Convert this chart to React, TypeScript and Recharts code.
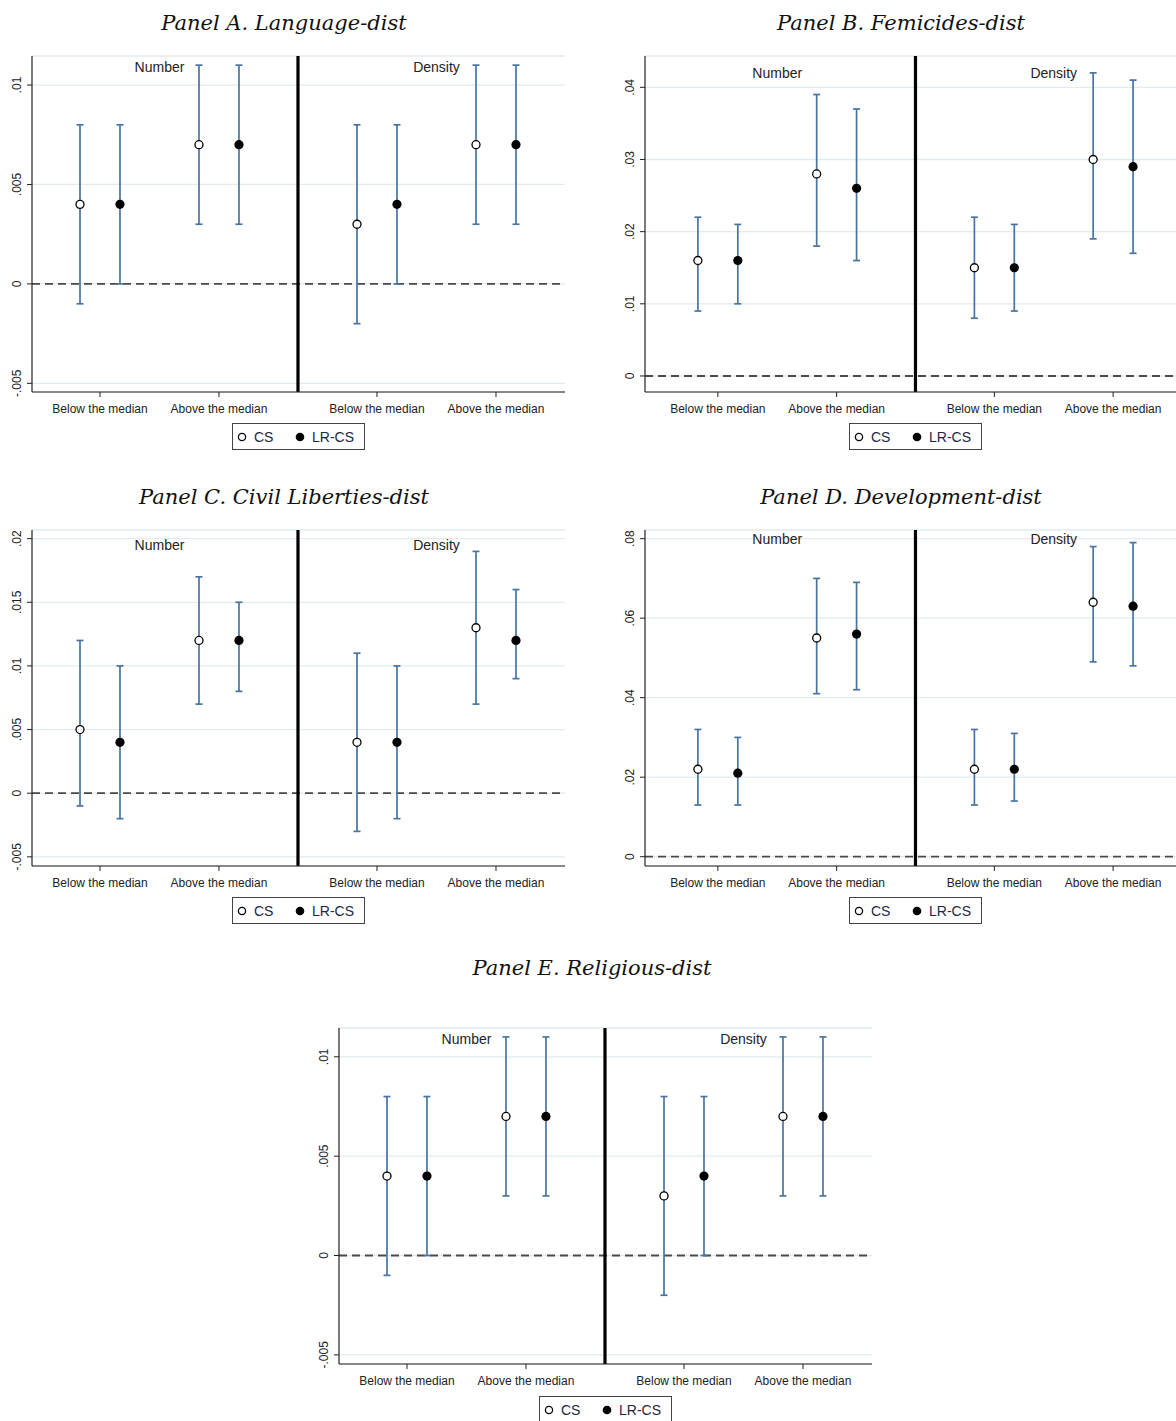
import React from 'react';
import {
  CartesianGrid,
  ErrorBar,
  ReferenceDot,
  ReferenceLine,
  Scatter,
  ScatterChart,
  XAxis,
  YAxis,
} from 'recharts';

const CATEGORIES = ['Below the median', 'Above the median', 'Below the median', 'Above the median'];
const CATEGORY_X = [1, 2, 3.328, 4.328];
const GROUPS = ['Number', 'Density'];
const GROUP_X = [1.5, 3.828];
const DIVIDER_X = 2.664;

// [estimate, lower CI, upper CI] per category
const languageCS = [[0.004, -0.001, 0.008], [0.007, 0.003, 0.011], [0.003, -0.002, 0.008], [0.007, 0.003, 0.011]];
const languageLR = [[0.004, 0, 0.008], [0.007, 0.003, 0.011], [0.004, 0, 0.008], [0.007, 0.003, 0.011]];
const femicidesCS = [[0.016, 0.009, 0.022], [0.028, 0.018, 0.039], [0.015, 0.008, 0.022], [0.03, 0.019, 0.042]];
const femicidesLR = [[0.016, 0.01, 0.021], [0.026, 0.016, 0.037], [0.015, 0.009, 0.021], [0.029, 0.017, 0.041]];
const civilCS = [[0.005, -0.001, 0.012], [0.012, 0.007, 0.017], [0.004, -0.003, 0.011], [0.013, 0.007, 0.019]];
const civilLR = [[0.004, -0.002, 0.01], [0.012, 0.008, 0.015], [0.004, -0.002, 0.01], [0.012, 0.009, 0.016]];
const developmentCS = [[0.022, 0.013, 0.032], [0.055, 0.041, 0.07], [0.022, 0.013, 0.032], [0.064, 0.049, 0.078]];
const developmentLR = [[0.021, 0.013, 0.03], [0.056, 0.042, 0.069], [0.022, 0.014, 0.031], [0.063, 0.048, 0.079]];
const religiousCS = [[0.004, -0.001, 0.008], [0.007, 0.003, 0.011], [0.003, -0.002, 0.008], [0.007, 0.003, 0.011]];
const religiousLR = [[0.004, 0, 0.008], [0.007, 0.003, 0.011], [0.004, 0, 0.008], [0.007, 0.003, 0.011]];

const languageTicks = [-0.005, 0, 0.005, 0.01];
const femicidesTicks = [0, 0.01, 0.02, 0.03, 0.04];
const civilTicks = [-0.005, 0, 0.005, 0.01, 0.015, 0.02];
const developmentTicks = [0, 0.02, 0.04, 0.06, 0.08];
const religiousTicks = [-0.005, 0, 0.005, 0.01];

const BAR_COLOR = '#4874a3';
const TEXT = '#222';
const PLOT_H = 336;

const stataFmt = (v: number) => String(+v.toFixed(4)).replace(/^(-?)0\./, '$1.');

const toPoints = (rows: number[][], side: number) =>
  rows.map(([est, lo, hi], i) => ({ x: CATEGORY_X[i] + side * 0.168, y: est, err: [est - lo, hi - est] }));

const YTick = (props: any) => {
  const { x, y, payload } = props;
  return (
    <text x={x} y={y} transform={`rotate(-90 ${x} ${y})`} textAnchor="middle" fontSize={12} fill={TEXT}>
      {stataFmt(payload.value)}
    </text>
  );
};

const hollow = (p: any) => <circle cx={p.cx} cy={p.cy} r={4} fill="#fff" stroke="#000" strokeWidth={1.3} />;
const solid = (p: any) => <circle cx={p.cx} cy={p.cy} r={4.6} fill="#000" />;

type PanelProps = {
  cs: number[][];
  lr: number[][];
  ticks: number[];
  domain: [number, number];
  labelY: number;
  left: number;
  top: number;
  width: number;
  xMin: number;
};

function Panel({ cs, lr, ticks, domain, labelY, left, top, width, xMin }: PanelProps) {
  return (
    <div style={{ position: 'absolute', left: left - 32, top: top - 10 }}>
      <ScatterChart width={32 + width} height={10 + PLOT_H + 30} margin={{ top: 10, right: 0, bottom: 0, left: 0 }}>
        <CartesianGrid vertical={false} stroke="#e2ebf0" strokeWidth={1.3} />
        <XAxis
          type="number"
          dataKey="x"
          domain={[xMin, 4.908]}
          ticks={CATEGORY_X}
          interval={0}
          allowDataOverflow
          height={30}
          tickSize={5}
          tickMargin={7}
          tickFormatter={(v: number) => CATEGORIES[CATEGORY_X.indexOf(v)]}
          tick={{ fontSize: 12, fill: TEXT }}
          axisLine={{ stroke: '#222', strokeWidth: 1.2 }}
          tickLine={{ stroke: '#222' }}
        />
        <YAxis
          type="number"
          dataKey="y"
          domain={domain}
          ticks={ticks}
          interval={0}
          allowDataOverflow
          width={32}
          tickSize={5}
          tickMargin={6}
          tick={<YTick />}
          axisLine={{ stroke: '#222', strokeWidth: 1.2 }}
          tickLine={{ stroke: '#222' }}
        />
        <ReferenceLine y={0} stroke="#4a4a4a" strokeDasharray="8 5" strokeWidth={1.8} />
        <ReferenceLine x={DIVIDER_X} stroke="#000" strokeWidth={3.2} />
        {GROUPS.map((g, i) => (
          <ReferenceDot
            key={g}
            x={GROUP_X[i]}
            y={labelY}
            r={0}
            fill="none"
            stroke="none"
            label={{ value: g, position: 'center', fontSize: 14, fill: TEXT }}
          />
        ))}
        <Scatter data={toPoints(cs, -1)} dataKey="y" shape={hollow} isAnimationActive={false}>
          <ErrorBar dataKey="err" direction="y" width={3.5} stroke={BAR_COLOR} strokeWidth={1.7} isAnimationActive={false} />
        </Scatter>
        <Scatter data={toPoints(lr, 1)} dataKey="y" shape={solid} isAnimationActive={false}>
          <ErrorBar dataKey="err" direction="y" width={3.5} stroke={BAR_COLOR} strokeWidth={1.7} isAnimationActive={false} />
        </Scatter>
      </ScatterChart>
    </div>
  );
}

function LegendBox({ left, top }: { left: number; top: number }) {
  return (
    <div
      style={{
        position: 'absolute',
        left,
        top,
        width: 131,
        height: 25,
        border: '1px solid #444',
        background: '#fff',
      }}
    >
      <svg width={131} height={25} style={{ display: 'block' }}>
        <circle cx={9} cy={13} r={3.6} fill="#fff" stroke="#000" strokeWidth={1.3} />
        <text x={21} y={18} fontSize={14} fill="#1d2744">CS</text>
        <circle cx={67} cy={13} r={4.3} fill="#000" />
        <text x={79} y={18} fontSize={14} fill="#1d2744">LR-CS</text>
      </svg>
    </div>
  );
}

function Title({ text, cx, cy }: { text: string; cx: number; cy: number }) {
  return (
    <div
      style={{
        position: 'absolute',
        left: cx - 250,
        top: cy - 15,
        width: 500,
        textAlign: 'center',
        fontFamily: '"DejaVu Serif", serif',
        fontStyle: 'italic',
        fontSize: 21,
        lineHeight: '30px',
        color: '#111',
      }}
    >
      {text}
    </div>
  );
}

export default function App() {
  return (
    <div
      style={{
        position: 'absolute',
        left: 0,
        top: 0,
        width: 1176,
        height: 1421,
        overflow: 'hidden',
        background: '#fff',
        fontFamily: '"Liberation Sans", Arial, sans-serif',
      }}
    >
      <Title text="Panel A. Language-dist" cx={284} cy={23} />
      <Title text="Panel B. Femicides-dist" cx={901} cy={23} />
      <Title text="Panel C. Civil Liberties-dist" cx={284} cy={497} />
      <Title text="Panel D. Development-dist" cx={901} cy={497} />
      <Title text="Panel E. Religious-dist" cx={592} cy={968} />

      <Panel cs={languageCS} lr={languageLR} ticks={languageTicks} domain={[-0.005435, 0.01146]} labelY={0.0109} left={32} top={56} width={533} xMin={0.4286} />
      <Panel cs={femicidesCS} lr={femicidesLR} ticks={femicidesTicks} domain={[-0.00222, 0.04434]} labelY={0.042} left={645} top={56} width={537} xMin={0.3866} />
      <Panel cs={civilCS} lr={civilLR} ticks={civilTicks} domain={[-0.00572, 0.02068]} labelY={0.0195} left={32} top={530} width={533} xMin={0.4286} />
      <Panel cs={developmentCS} lr={developmentLR} ticks={developmentTicks} domain={[-0.00234, 0.08217]} labelY={0.0798} left={645} top={530} width={537} xMin={0.3866} />
      <Panel cs={religiousCS} lr={religiousLR} ticks={religiousTicks} domain={[-0.00546, 0.01145]} labelY={0.0109} left={339} top={1028} width={533} xMin={0.4286} />

      <LegendBox left={232} top={423} />
      <LegendBox left={849} top={423} />
      <LegendBox left={232} top={897} />
      <LegendBox left={849} top={897} />
      <LegendBox left={539} top={1396} />
    </div>
  );
}
